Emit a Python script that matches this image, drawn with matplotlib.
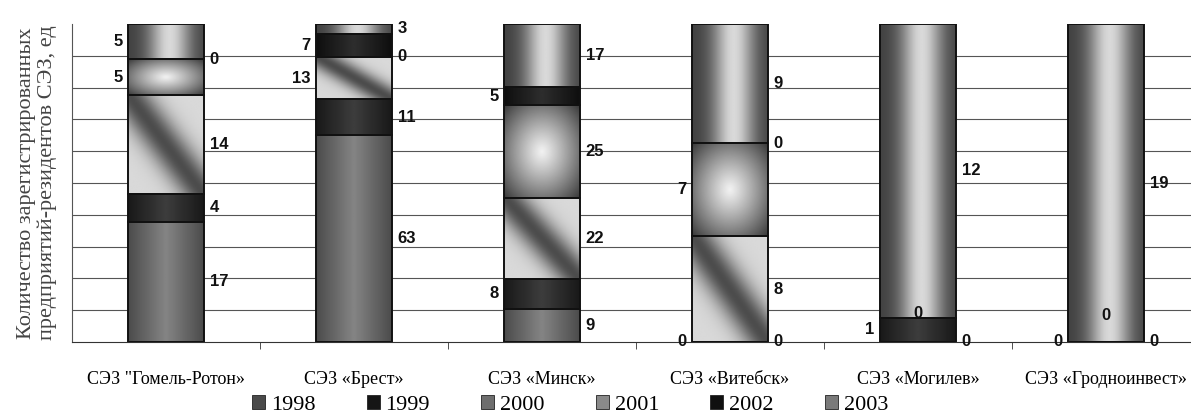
#!/usr/bin/env python3
# 100% stacked columns: SEZ resident companies by year of registration
import numpy as np
import matplotlib.pyplot as plt
from matplotlib.patches import Patch

zones = ['СЭЗ "Гомель-Ротон»', "СЭЗ «Брест»", "СЭЗ «Минск»",
         "СЭЗ «Витебск»", "СЭЗ «Могилев»", "СЭЗ «Гродноинвест»"]
years = ["1998", "1999", "2000", "2001", "2002", "2003"]

# counts per zone, one list per year
y1998 = [17, 63, 9, 0, 0, 0]
y1999 = [4, 11, 8, 0, 1, 0]
y2000 = [14, 13, 22, 8, 0, 0]
y2001 = [5, 0, 25, 7, 0, 0]
y2002 = [0, 7, 5, 0, 0, 0]
y2003 = [5, 3, 17, 9, 12, 19]
series = [y1998, y1999, y2000, y2001, y2002, y2003]

# where each value label sits: r = right of bar, l = left, c = inside, None = hidden
label_side = [
    ["r", "r", "r", "l", "r", "l"],
    ["r", "r", "l", "r", "l", "r"],
    ["r", "l", "r", "r", "l", "r"],
    ["l", "r", "r", "l", "r", "r"],
    ["r", "l", "c", None, None, "r"],
    ["l", "r", None, None, "c", "r"],
]
center_lift = {4: 3, 5: 19}   # points up for the inside zero labels

# --- gradient fills (grey scan look) ---
NY, NX = 80, 40
u, v = np.meshgrid(np.linspace(0, 1, NX), np.linspace(0, 1, NY))
mid = 1 - np.abs(2 * u - 1)

def fill(k):
    if k == 0:
        return 0.30 + 0.22 * mid
    if k == 1:
        return 0.10 + 0.14 * mid
    if k == 2:
        d = np.abs(u + v - 1) / np.sqrt(2)
        return 0.85 - 0.55 * np.exp(-(d / 0.22) ** 2)
    if k == 3:
        r = np.sqrt((2 * u - 1) ** 2 + (2 * v - 1) ** 2) / np.sqrt(2)
        return 0.95 - 0.72 * r ** 1.1
    if k == 4:
        return 0.06 + 0.12 * mid
    return 0.25 + 0.6 * np.exp(-((u - 0.55) / 0.28) ** 2)

serif = "Liberation Serif"
fig = plt.figure(figsize=(11.91, 4.16), dpi=100)
ax = fig.add_axes([72 / 1191, 74 / 416, 1 - 72 / 1191, 318 / 416])

x = np.arange(len(zones))
width = 0.404
data = np.array(series, dtype=float)
totals = data.sum(axis=0)
pct = data / totals
bottoms = np.vstack([np.zeros(len(zones)), np.cumsum(pct, axis=0)[:-1]])

for k in range(len(years)):
    for i in range(len(zones)):
        h = pct[k, i]
        b = bottoms[k, i]
        if h > 0:
            ax.imshow(fill(k), cmap="gray", vmin=0, vmax=1, origin="lower",
                      extent=(x[i] - width / 2, x[i] + width / 2, b, b + h),
                      aspect="auto", interpolation="bilinear", zorder=2)
    ax.bar(x, pct[k], width, bottom=bottoms[k], fill=False,
           edgecolor="#111111", linewidth=1.4, zorder=3)

# value labels
for k in range(len(years)):
    for i in range(len(zones)):
        side = label_side[i][k]
        if side is None:
            continue
        yc = bottoms[k, i] + pct[k, i] / 2
        val = int(series[k][i])
        if side == "r":
            xy, off, ha = (x[i] + width / 2, yc), (4, 0), "left"
        elif side == "l":
            xy, off, ha = (x[i] - width / 2, yc), (-4, 0), "right"
        else:
            xy, off, ha = (x[i], yc), (0, center_lift.get(i, 0)), "center"
        ax.annotate(str(val), xy=xy, xytext=off, textcoords="offset points",
                    ha=ha, va="center", fontsize=12, fontweight="bold",
                    family="Liberation Sans", color="#111111", zorder=4)

ax.set_xlim(-0.5, -0.5 + (1191 - 72) / 188)
ax.set_ylim(0, 1)
ax.set_yticks(np.arange(0.1, 0.95, 0.1))
ax.yaxis.grid(True, color="#555555", linewidth=0.8, zorder=0)
ax.tick_params(axis="y", length=0, labelleft=False)
ax.set_xticks(x)
ax.set_xticklabels(zones, family=serif, fontsize=13)
ax.tick_params(axis="x", which="major", length=0, pad=21)
ax.set_xticks(x[:-1] + 0.5, minor=True)
ax.tick_params(axis="x", which="minor", length=5, color="#333333")
for s in ["top", "right"]:
    ax.spines[s].set_visible(False)
ax.spines["left"].set_color("#555555")
ax.spines["bottom"].set_color("#333333")
ax.set_axisbelow(True)

fig.text(37 / 1191, 1 - 183 / 416,
         "Количество зарегистрированных\nпредприятий-резидентов СЭЗ, ед",
         rotation=90, ha="center", va="center", family=serif, fontsize=16,
         color="#444444", linespacing=1.1)

legend_colors = ["#4a4a4a", "#151515", "#6e6e6e", "#8a8a8a", "#101010", "#7a7a7a"]
handles = [Patch(facecolor=c, edgecolor="#222222", linewidth=0.6) for c in legend_colors]
fig.legend(handles, years, loc="center", bbox_to_anchor=(570 / 1191, 1 - 405 / 416),
           ncol=6, frameon=False, prop={"family": serif, "size": 16},
           handlelength=0.6, handleheight=0.6, handletextpad=0.25, columnspacing=2.3)

fig.savefig("out.png", dpi=100)
